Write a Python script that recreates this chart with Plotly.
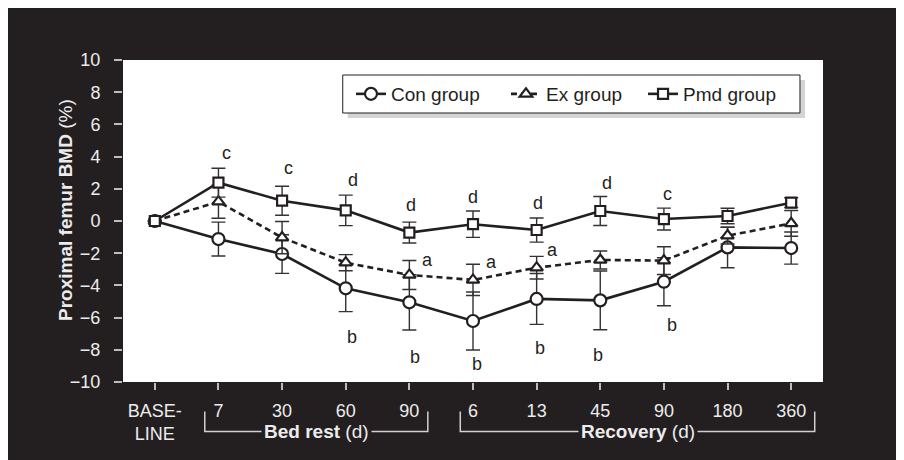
import plotly.graph_objects as go

# ---------------- data ----------------
tick_labels = ["BASE-<br>LINE", "7", "30", "60", "90", "6", "13", "45", "90", "180", "360"]
positions = list(range(len(tick_labels)))

con_mean = [0, -1.12, -2.05, -4.18, -5.05, -6.21, -4.84, -4.93, -3.77, -1.64, -1.68]
con_err = [None, 1.05, 1.20, 1.45, 1.72, 1.80, 1.58, 1.82, 1.49, 1.26, 1.00]
ex_mean = [0, 1.20, -1.03, -2.59, -3.35, -3.66, -2.90, -2.42, -2.46, -0.91, -0.15]
ex_err = [None, 1.03, 1.00, 0.50, 0.90, 0.97, 0.70, 0.56, 0.86, 0.52, 0.80]
pmd_mean = [0, 2.38, 1.26, 0.66, -0.72, -0.20, -0.56, 0.62, 0.12, 0.31, 1.14]
pmd_err = [None, 0.90, 0.90, 0.95, 0.65, 0.82, 0.75, 0.90, 0.68, 0.48, 0.30]

# significance letters: x position, y value, letter
sig_x = [1.12, 2.10, 3.11, 3.10, 4.03, 4.28, 4.09, 5.00, 5.29, 5.07, 6.02, 6.25, 6.05, 7.10, 6.96, 8.06, 8.13]
sig_y = [4.20, 3.27, 2.55, -7.19, 1.00, -2.42, -8.43, 1.51, -2.53, -8.88, 1.12, -1.80, -7.89, 2.36, -8.32, 1.68, -6.46]
sig_t = ["c", "c", "d", "b", "d", "a", "b", "d", "a", "b", "d", "a", "b", "d", "b", "c", "b"]

DARK = "#231f20"
LIGHT = "#ececec"
FONT = "Liberation Sans, Arial, sans-serif"

fig = go.Figure()

def add_series(name, y, err, symbol, size, dash, legend, lx):
    fig.add_trace(go.Scatter(
        x=positions, y=y, name=name, mode="lines+markers",
        line=dict(color=DARK, width=2.6, dash=dash),
        marker=dict(symbol=symbol, size=size, color="white",
                    line=dict(color=DARK, width=2.2)),
        error_y=dict(type="data", array=err, visible=True,
                     color="#333333", thickness=1.4, width=7),
        legend=legend,
    ))
    fig.update_layout({legend: dict(x=lx, y=0.8944, xanchor="left", yanchor="middle",
                                    bgcolor="rgba(0,0,0,0)", borderwidth=0,
                                    font=dict(family=FONT, size=19, color=DARK))})

add_series("Con group", con_mean, con_err, "circle", 12, "solid", "legend", 0.3257)
add_series("Ex group", ex_mean, ex_err, "triangle-up", 11, "6px,4px", "legend2", 0.5471)
add_series("Pmd group", pmd_mean, pmd_err, "square", 10, "solid", "legend3", 0.7429)

annotations = []
for x, y, t in zip(sig_x, sig_y, sig_t):
    annotations.append(dict(x=x, y=y, xref="x", yref="y", text=t, showarrow=False,
                            xanchor="center", yanchor="middle",
                            font=dict(family=FONT, size=18, color=DARK)))

# y axis title
annotations.append(dict(x=-0.083, y=0.534, xref="paper", yref="paper",
                        xanchor="center", yanchor="middle",
                        text="<b>Proximal femur BMD</b> (%)", textangle=-90,
                        showarrow=False, font=dict(family=FONT, size=19, color=LIGHT)))
# bracket labels
for bx, btxt in [(2.54, "<b>Bed rest</b> (d)"), (7.585, "<b>Recovery</b> (d)")]:
    annotations.append(dict(x=bx, y=-0.154, xref="x", yref="paper",
                            xanchor="center", yanchor="middle",
                            text=btxt, showarrow=False, bgcolor=DARK,
                            borderpad=2, font=dict(family=FONT, size=19, color=LIGHT)))

BR = "#d0d0d0"
shapes = [
    # legend shadow and box
    dict(type="rect", xref="paper", yref="paper", x0=0.3210, x1=0.9743, y0=0.8199, y1=0.9379,
         fillcolor="#d4d4d4", line=dict(width=0), layer="below"),
    dict(type="rect", xref="paper", yref="paper", x0=0.3139, x1=0.9671, y0=0.8354, y1=0.9534,
         fillcolor="white", line=dict(color=DARK, width=1), layer="below"),
    # brackets
    dict(type="path", xref="x", yref="paper",
         path="M 0.785 -0.092 L 0.785 -0.154 L 4.29 -0.154 L 4.29 -0.092",
         line=dict(color=BR, width=1.5)),
    dict(type="path", xref="x", yref="paper",
         path="M 4.80 -0.092 L 4.80 -0.154 L 10.37 -0.154 L 10.37 -0.092",
         line=dict(color=BR, width=1.5)),
]

fig.update_layout(
    width=904, height=460,
    margin=dict(l=115, r=89, t=52, b=86),
    paper_bgcolor=DARK, plot_bgcolor="white",
    font=dict(family=FONT, color=LIGHT),
    showlegend=True,
    xaxis=dict(range=[-0.5, 10.5], tickvals=positions, ticktext=tick_labels,
               showgrid=False, zeroline=False, showline=False,
               ticks="outside", ticklen=7, tickcolor="#bdbdbd", tickwidth=1.5,
               ticklabelstandoff=5,
               tickfont=dict(family=FONT, size=18, color=LIGHT)),
    yaxis=dict(range=[-10, 10], dtick=2, tick0=0,
               showgrid=False, zeroline=False, showline=False,
               ticks="outside", ticklen=8, tickcolor="#bdbdbd", tickwidth=1.5,
               ticklabelstandoff=10,
               tickfont=dict(family=FONT, size=18, color=LIGHT)),
    annotations=annotations,
    shapes=shapes,
)

fig.write_html("out.html")
